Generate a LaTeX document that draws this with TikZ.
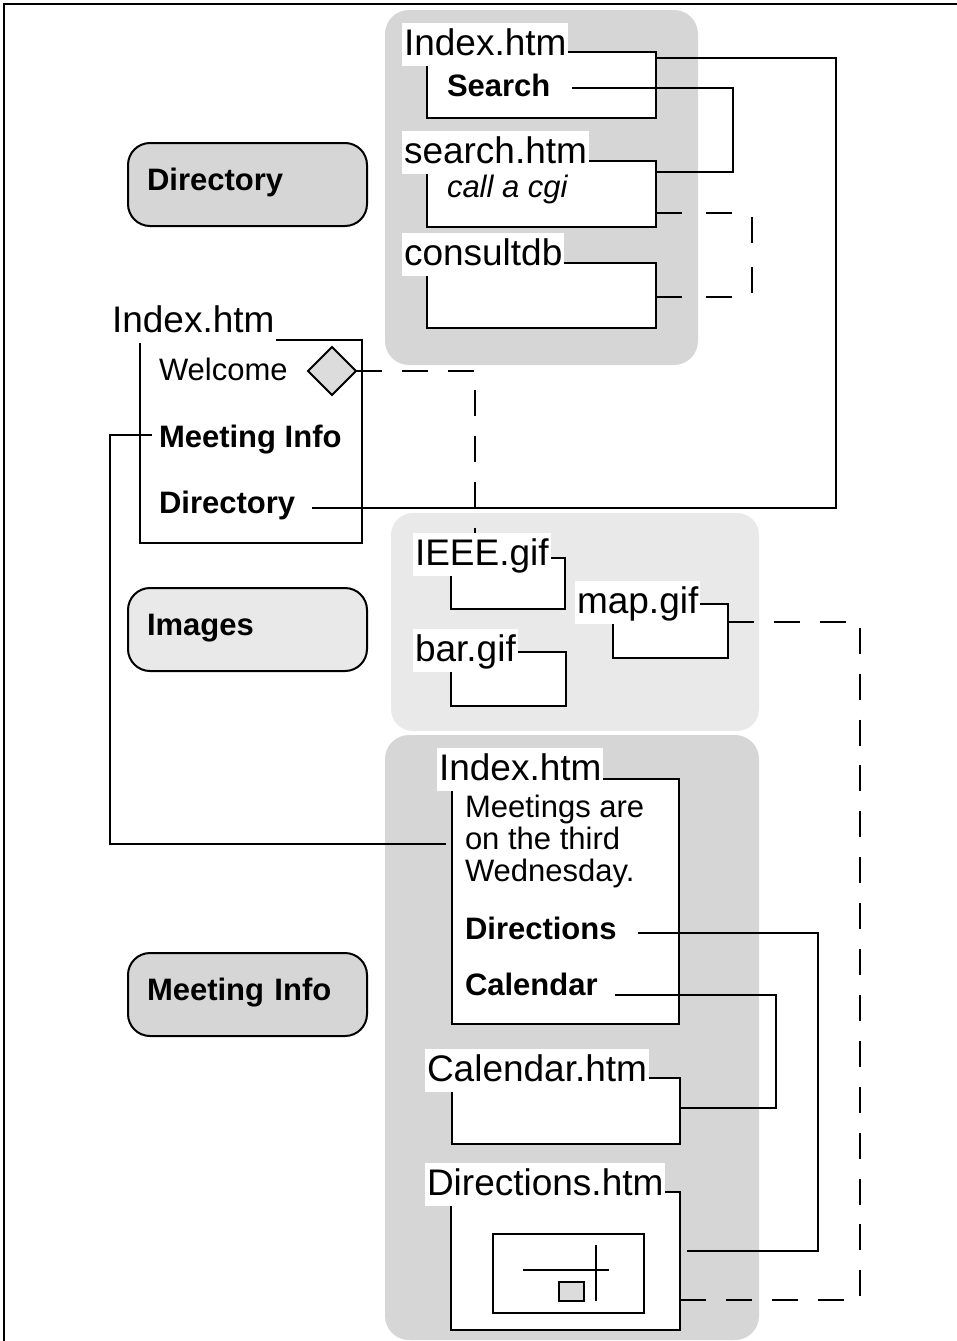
\documentclass[tikz,border=0pt]{standalone}
\usepackage{fontspec}
\setmainfont{Liberation Sans}
\usetikzlibrary{shapes.geometric,calc}
\definecolor{grpdark}{HTML}{D6D6D6}
\definecolor{grplight}{HTML}{E9E9E9}
\definecolor{diafill}{HTML}{DCDCDC}
\begin{document}
\begin{tikzpicture}[x=1pt,y=-1pt,
  every node/.style={inner sep=0pt, outer sep=0pt},
  ln/.style={line width=2pt},
  link/.style={ln},
  dlink/.style={ln, dash pattern=on 26pt off 20pt},
  pagebox/.style={draw, line width=2pt, fill=white, rectangle, anchor=north west},
  pagelbl/.style={fill=white, inner xsep=2pt, inner ysep=1pt, text height=31pt, text depth=10pt, font=\fontsize{37}{37}\selectfont, anchor=base west},
  txt/.style={font=\fontsize{31}{32}\selectfont, anchor=base west},
  btxt/.style={font=\fontsize{31}{32}\selectfont\bfseries, anchor=base west},
  navbox/.style={draw, line width=2pt, rounded corners=22pt, minimum width=239pt, minimum height=83pt, text width=201pt, inner xsep=19pt, align=left, text height=22pt, text depth=11pt, font=\fontsize{31}{32}\selectfont\bfseries},
]
\useasboundingbox (0,0) rectangle (957,1341);
% outer frame
\draw[line width=2pt] (4,1360) -- (4,4) -- (970,4);
% group backgrounds
\fill[grpdark, rounded corners=24pt] (385,10) rectangle (698,365);
\fill[grplight, rounded corners=22pt] (391,513) rectangle (759,731);
\fill[grpdark, rounded corners=24pt] (385,735) rectangle (759,1340);

% left navigation labels
\node[navbox, fill=grpdark] (navDir) at (247.5,184.5) {Directory};
\node[navbox, fill=grplight] (navImg) at (247.5,629.5) {Images};
\node[navbox, fill=grpdark] (navMI) at (247.5,994.5) {Meeting Info};

% page boxes
\node[pagebox, minimum width=229pt, minimum height=66pt] (b1) at (427,52) {};
\node[pagebox, minimum width=229pt, minimum height=66pt] (b2) at (427,161) {};
\node[pagebox, minimum width=229pt, minimum height=65pt] (b3) at (427,263) {};
\node[pagebox, minimum width=222pt, minimum height=203pt] (b4) at (140,340) {};
\node[pagebox, minimum width=114pt, minimum height=51pt] (b5) at (451,558) {};
\node[pagebox, minimum width=115pt, minimum height=54pt] (b6) at (451,652) {};
\node[pagebox, minimum width=115pt, minimum height=54pt] (b7) at (613,604) {};
\node[pagebox, minimum width=227pt, minimum height=245pt] (b8) at (452,779) {};
\node[pagebox, minimum width=228pt, minimum height=66pt] (b9) at (452,1078) {};
\node[pagebox, minimum width=229pt, minimum height=138pt] (b10) at (451,1192) {};

% page titles
\node[pagelbl] (l1) at (402,55) {Index.htm};
\node[pagelbl] (l2) at (402,163) {search.htm};
\node[pagelbl] (l3) at (402,265) {consultdb};
\node[pagelbl] (l4) at (110,332) {Index.htm};
\node[pagelbl] (lIEEE) at (413,565) {IEEE.gif};
\node[pagelbl] (lbar) at (413,661) {bar.gif};
\node[pagelbl] (lmap) at (575,613) {map.gif};
\node[pagelbl] (l8) at (437,780) {Index.htm};
\node[pagelbl] (l9) at (425,1081) {Calendar.htm};
\node[pagelbl] (l10) at (425,1195) {Directions.htm};

% page contents
\node[btxt] (tSearch) at (447,96) {Search};
\node[txt, font=\fontsize{31}{32}\selectfont\itshape] (tCgi) at (447,197) {call a cgi};
\node[txt] (tWelcome) at (159,380) {Welcome};
\node[btxt] (tMI) at (159,447) {Meeting Info};
\node[btxt] (tDir) at (159,513) {Directory};
\node[diamond, draw, fill=diafill, line width=2pt, minimum width=48pt, minimum height=48pt] (dia) at (332,371) {};
\node[txt, align=left] (tMeet) at (465,881) {Meetings are\\on the third\\Wednesday.};
\node[btxt] (tDirections) at (465,939) {Directions};
\node[btxt] (tCalendar) at (465,995) {Calendar};

% map picture in Directions.htm
\node[draw, line width=2pt, minimum width=151pt, minimum height=79pt, anchor=north west] (mapimg) at (493,1234) {};
\draw[ln] ([xshift=30pt,yshift=-36pt]mapimg.north west) -- ++(86,0);
\draw[ln] ([xshift=103pt,yshift=-11pt]mapimg.north west) -- ++(0,56);
\node[draw, fill=diafill, line width=2pt, minimum width=25pt, minimum height=19pt, anchor=north west] (mapbar) at (559,1282) {};

% connectors
\coordinate (cDir) at ([xshift=17pt,yshift=5pt]tDir.base east);
\draw[link] ([yshift=-6pt]b1.north east) -- ++(180,0) |- (cDir);
\draw[link] ([xshift=22pt,yshift=8pt]tSearch.base east) -- ++(161,0) |- ([yshift=-11pt]b2.north east);
\draw[dlink, dash pattern=on 26pt off 24pt] ([yshift=-52pt]b2.north east) -- ++(96,0) |- ([yshift=-34pt]b3.north east);
\draw[dlink] (dia.east) -| ([xshift=-6.5pt]lIEEE.north);
\draw[link] ([xshift=-7pt,yshift=12pt]tMI.base west) -- ++(-42,0) |- ([xshift=-6pt,yshift=-65pt]b8.north west);
\draw[dlink, dash pattern=on 26pt off 19.9pt] ([yshift=-18pt]b7.north east) -- ++(132,0) |- ([yshift=-108pt]b10.north east);
\draw[link] ([xshift=21pt,yshift=6pt]tDirections.base east) -- ++(180,0) |- ([xshift=7pt,yshift=-59pt]b10.north east);
\draw[link] ([xshift=17pt]tCalendar.base east) -- ++(161,0) |- ([yshift=-30pt]b9.north east);
\end{tikzpicture}
\end{document}
